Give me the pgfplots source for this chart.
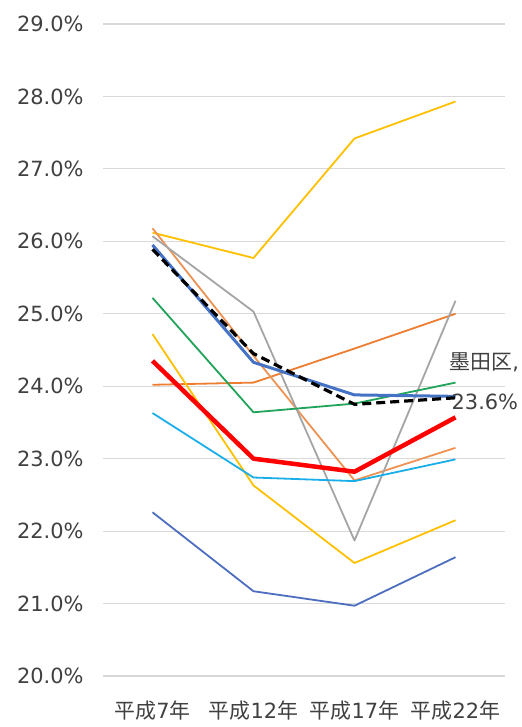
\documentclass[border=0pt]{standalone}
\usepackage{fontspec}
\setmainfont{DejaVu Sans}
\newfontfamily\cjk{Noto Sans CJK JP}
\usepackage{pgfplots}
\pgfplotsset{compat=1.18}

\definecolor{gold}{HTML}{FFC000}
\definecolor{orng}{HTML}{ED7D31}
\definecolor{tan}{HTML}{EE9254}
\definecolor{gry}{HTML}{A5A5A5}
\definecolor{grn}{HTML}{21A35A}
\definecolor{cyanb}{HTML}{1AAEE8}
\definecolor{navyb}{HTML}{4D6EBF}
\definecolor{blu}{HTML}{4472C4}
\definecolor{txt}{HTML}{404040}
\definecolor{gridc}{HTML}{D9D9D9}

\begin{document}
\begin{tikzpicture}
\useasboundingbox (-103bp,-51bp) rectangle (419bp,676bp);
\begin{axis}[
    at={(0,0)}, anchor=south west,
    scale only axis,
    width=402bp, height=652bp,
    xmin=-0.49, xmax=3.49,
    ymin=20, ymax=29,
    xtick={0,1,2,3},
    xticklabels={{\cjk 平成}7{\cjk 年},{\cjk 平成}12{\cjk 年},{\cjk 平成}17{\cjk 年},{\cjk 平成}22{\cjk 年}},
    ytick={20,21,...,29},
    yticklabel={\pgfmathprintnumber[fixed,fixed zerofill,precision=1]{\tick}\%},
    /pgf/number format/assume math mode=true,
    axis line style={draw=none},
    major tick length=0pt,
    ymajorgrids=true,
    grid style={gridc, line width=1.2bp},
    tick label style={font=\fontsize{21}{25}\selectfont, text=txt},
    yticklabel style={xshift=-16bp},
    xticklabel style={yshift=-21bp},
    clip=false,
    line join=round,
]
% thin lines
\addplot[gold, line width=1.8bp] coordinates {(0,26.12) (1,25.77) (2,27.42) (3,27.93)};
\addplot[orng, line width=1.8bp] coordinates {(0,24.02) (1,24.05) (2,24.52) (3,25.00)};
\addplot[tan, line width=1.8bp] coordinates {(0,26.18) (1,24.42) (2,22.70) (3,23.15)};
\addplot[gry, line width=1.8bp] coordinates {(0,26.07) (1,25.03) (2,21.87) (3,25.18)};
\addplot[grn, line width=1.8bp] coordinates {(0,25.22) (1,23.64) (2,23.76) (3,24.05)};
\addplot[gold, line width=1.8bp] coordinates {(0,24.72) (1,22.63) (2,21.56) (3,22.15)};
\addplot[cyanb, line width=1.8bp] coordinates {(0,23.63) (1,22.74) (2,22.69) (3,22.99)};
\addplot[navyb, line width=1.8bp] coordinates {(0,22.26) (1,21.17) (2,20.97) (3,21.64)};
% thick lines
\addplot[blu, line width=3bp] coordinates {(0,25.95) (1,24.33) (2,23.88) (3,23.86)};
\addplot[red, line width=4.5bp] coordinates {(0,24.35) (1,23.00) (2,22.82) (3,23.57)};
\addplot[black, line width=3.2bp, dash pattern=on 9bp off 5bp] coordinates {(0,25.89) (1,24.45) (2,23.75) (3,23.84)};

\node[anchor=west, inner sep=0pt, text=txt, font=\fontsize{21}{25}\selectfont] at (axis cs:2.94,24.33) {{\cjk 墨田区},};
\node[anchor=west, inner sep=0pt, text=txt, font=\fontsize{21}{25}\selectfont] at (axis cs:2.96,23.78) {23.6\%};
\end{axis}
\end{tikzpicture}
\end{document}
